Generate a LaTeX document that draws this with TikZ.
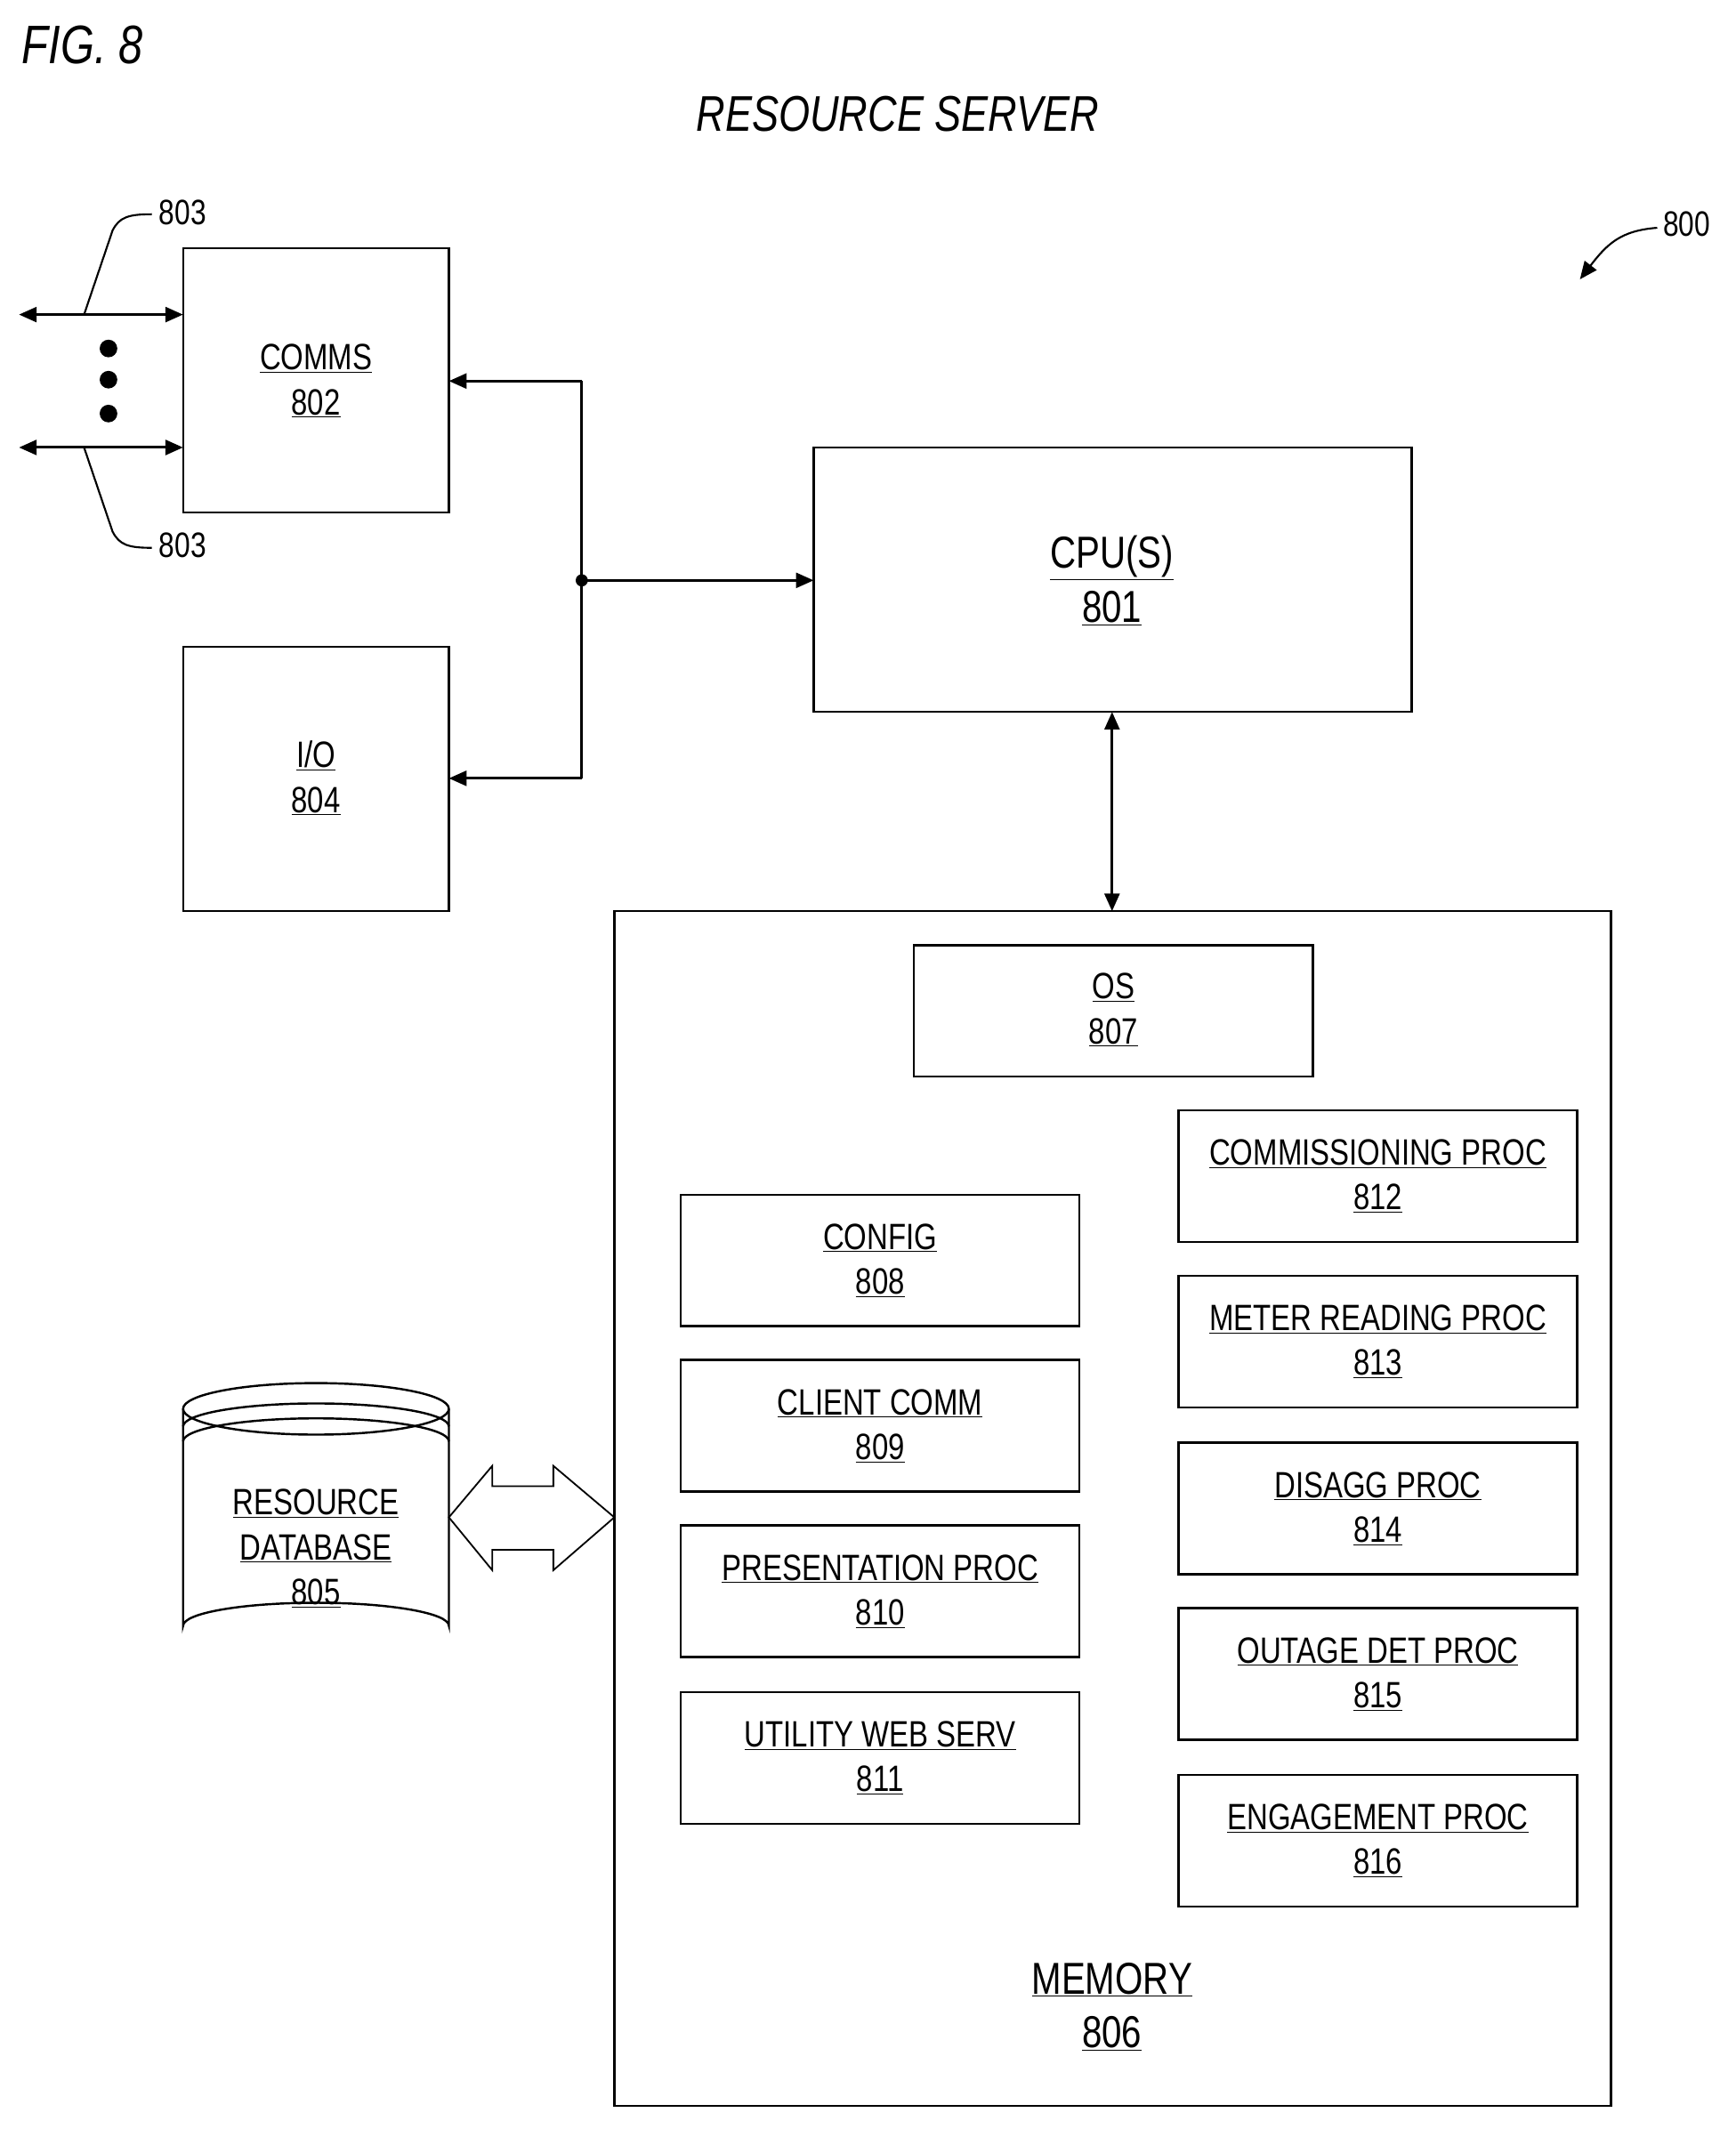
\documentclass[tikz,border=0pt]{standalone}
\usepackage{fontspec}
\setmainfont{Liberation Sans}[FakeStretch=0.8]
\usetikzlibrary{arrows.meta}
\begin{document}
\begin{tikzpicture}[x=1pt,y=-1pt,line width=2pt,
  box/.style={draw,line width=1.6pt},
  lbl/.style={font=\fontsize{27}{33}\selectfont,align=center},
  arr/.style={-{Triangle[length=13pt,width=11pt]}},
  darr/.style={{Triangle[length=13pt,width=11pt]}-{Triangle[length=13pt,width=11pt]}}]
\useasboundingbox (0,0) rectangle (1280,1576);
\node[font=\itshape\fontsize{40}{40}\selectfont,anchor=west] (fig) at (12,33) {FIG. 8};
\node[font=\itshape\fontsize{37}{37}\selectfont] (title) at (662,84) {RESOURCE SERVER};
% boxes
\draw[box] (135,183) rectangle (331,378) coordinate (c2);
\node[lbl] (comms) at (233,281) {\underline{COMMS}\\\underline{802}};
\draw[box] (135,477) rectangle (331,672);
\node[lbl] (io) at (233,574) {\underline{I/O}\\\underline{804}};
\draw[box] (600,330) rectangle (1041,525);
\node[lbl,font=\fontsize{33}{40}\selectfont] (cpu) at (820,428) {\underline{CPU(S)}\\\underline{801}};
\draw[box] (453,672) rectangle (1188,1553);
\node[lbl,font=\fontsize{33}{40}\selectfont] (mem) at (820,1480) {\underline{MEMORY}\\\underline{806}};
\draw[box] (674,697) rectangle (968,794);
\node[lbl] (os) at (821,745) {\underline{OS}\\\underline{807}};
\foreach \y/\t/\n in {881/CONFIG/808,1003/CLIENT COMM/809,1125/PRESENTATION PROC/810,1248/UTILITY WEB SERV/811}{
  \draw[box] (502,\y) rectangle (796,\y+97);
  \node[lbl] (n\n) at (649,\y+48.5) {\underline{\t}\\\underline{\n}};}
\foreach \y/\t/\n in {819/COMMISSIONING PROC/812,941/METER READING PROC/813,1064/DISAGG PROC/814,1186/OUTAGE DET PROC/815,1309/ENGAGEMENT PROC/816}{
  \draw[box] (869,\y) rectangle (1163,\y+97);
  \node[lbl] (n\n) at (1016,\y+48.5) {\underline{\t}\\\underline{\n}};}
% bus
\coordinate (bt) at (429,281); \coordinate (bb) at (429,574); \coordinate (bm) at (429,428);
\draw[arr] (bt) -- (331,281);
\draw[arr] (bb) -- (331,574);
\draw (bt) -- (bb);
\fill (bm) circle (4.5);
\draw[arr] (bm) -- (600,428);
\draw[darr] (820,525) -- (820,672);
% comms lines
\draw[darr] (14,232) -- (135,232);
\draw[darr] (14,330) -- (135,330);
\foreach \y in {257,280,305} \fill (80,\y) circle (6.5);
\draw[line width=1.4pt] (62,232) -- (83,170) .. controls (88,160) and (95,158) .. (112,158);
\draw[line width=1.4pt] (62,330) -- (83,392) .. controls (88,402) and (95,404) .. (112,404);
\node[font=\fontsize{26}{26}\selectfont,anchor=west] (l803a) at (113,157) {803};
\node[font=\fontsize{26}{26}\selectfont,anchor=west] (l803b) at (113,402) {803};
\node[font=\fontsize{26}{26}\selectfont,anchor=west] (l800) at (1222,165) {800};
\draw[line width=1.4pt,-{Triangle[length=13pt,width=11pt]}] (1222,168) .. controls (1195,170) and (1185,180) .. (1165,206);
% database
\draw[box,fill=white] (135,1039) -- (135,1199) arc[start angle=180,end angle=360,x radius=98,y radius=17] -- (331,1039);
\draw[box] (233,1039) ellipse[x radius=98,y radius=19];
\draw[box] (135,1052) arc[start angle=180,end angle=360,x radius=98,y radius=17];
\draw[box] (135,1063) arc[start angle=180,end angle=360,x radius=98,y radius=17];
\node[lbl] (db) at (233,1142) {\underline{RESOURCE}\\\underline{DATABASE}\\\underline{805}};
% block double arrow
\draw[line width=1.2pt] (331,1119) -- (363,1081) -- (363,1096) -- (408,1096) -- (408,1081) -- (453,1119) -- (408,1158) -- (408,1143) -- (363,1143) -- (363,1158) -- cycle;
\end{tikzpicture}
\end{document}
